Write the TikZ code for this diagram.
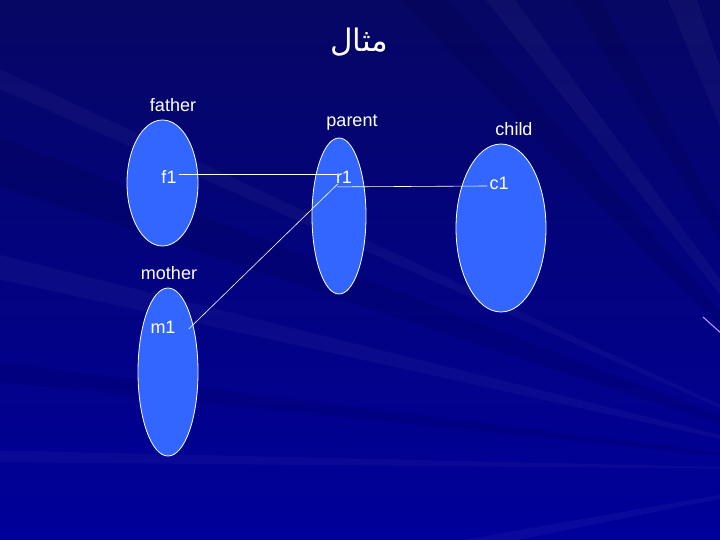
\documentclass[tikz,border=0pt]{standalone}
\usepackage{fontspec}
\setmainfont{Liberation Sans}
\newfontfamily\arabicfont[Script=Arabic]{DejaVu Sans}
\TeXXeTstate=1
\usetikzlibrary{shapes.geometric}
\definecolor{bgtop}{RGB}{6,6,100}
\definecolor{bgbot}{RGB}{0,0,155}
\definecolor{setfill}{RGB}{51,102,255}
\definecolor{raypink}{RGB}{200,160,255}
\tikzset{
  setshape/.style={ellipse, draw=white, line width=0.8bp, fill=setfill, inner sep=0pt},
  lbl/.style={text=white, inner sep=0pt, font=\fontsize{18bp}{20bp}\selectfont},
  elem/.style={text=white, inner sep=0pt, font=\fontsize{18bp}{20bp}\selectfont},
  conn/.style={draw=white, line width=0.6bp},
  raylight/.style={fill=white, opacity=0.035},
  raydark/.style={fill=black, opacity=0.08}
}
\begin{document}
\begin{tikzpicture}[x=1bp, y=-1bp]
\useasboundingbox (0,0) rectangle (720,540);
% background
\shade[top color=bgtop, bottom color=bgbot] (0,0) rectangle (720,540);
\begin{scope}
\clip (0,0) rectangle (720,540);
\coordinate (foc) at (860,470);
\fill[raydark] (foc) -- (380,-20) -- (430,-20) -- cycle;
\fill[raydark] (foc) -- (560,-20) -- (590,-20) -- cycle;
\fill[raydark] (foc) -- (-20,130) -- (-20,180) -- cycle;
\fill[raydark] (foc) -- (-20,360) -- (-20,380) -- cycle;
\fill[raylight] (foc) -- (-20,250) -- (-20,275) -- cycle;
\fill[raylight] (foc) -- (-20,450) -- (-20,462) -- cycle;
\fill[raylight] (foc) -- (470,-20) -- (500,-20) -- cycle;
\fill[raylight] (foc) -- (660,-20) -- (690,-20) -- cycle;
\fill[raylight] (foc) -- (350,560) -- (420,560) -- cycle;
\fill[raylight] (foc) -- (-20,60) -- (-20,80) -- cycle;
\end{scope}
\coordinate (pinkA) at (703,317);
\coordinate (pinkB) at (722,334);
\draw[raypink, line width=1bp] (pinkA) -- (pinkB);
% title
\node[text=white, inner sep=0pt, font=\arabicfont\fontsize{31bp}{34bp}\selectfont] (title) at (359,42) {\beginR مثال\endR};
% sets
\node[setshape, minimum width=71bp, minimum height=126bp] (father) at (162.5,183) {};
\node[setshape, minimum width=54bp, minimum height=156bp] (parent) at (339,216) {};
\node[setshape, minimum width=90bp, minimum height=168bp] (child) at (501,228) {};
\node[setshape, minimum width=60bp, minimum height=168bp] (mother) at (168,372) {};
% labels
\node[lbl] (lfather) at (173,105) {father};
\node[lbl] (lparent) at (352,123) {parent};
\node[lbl] (lchild) at (514,129) {child};
\node[lbl] (lmother) at (169,273) {mother};
% elements
\node[elem] (f1) at (169,177) {f1};
\node[elem] (r1) at (344,177) {r1};
\node[elem] (c1) at (499,183.5) {c1};
\node[elem] (m1) at (163,327.5) {m1};
% connectors
\draw[conn] ([xshift=2bp,yshift=3bp]f1.east) -- ([xshift=1bp,yshift=3bp]r1.west);
\draw[conn] ([xshift=1bp,yshift=-3.5bp]r1.south west) -- ([xshift=-2bp,yshift=-2.5bp]c1.west);
\draw[conn] ([xshift=13bp,yshift=-1.5bp]m1.east) -- ([xshift=2bp,yshift=-0.5bp]r1.south west);
\end{tikzpicture}
\end{document}
